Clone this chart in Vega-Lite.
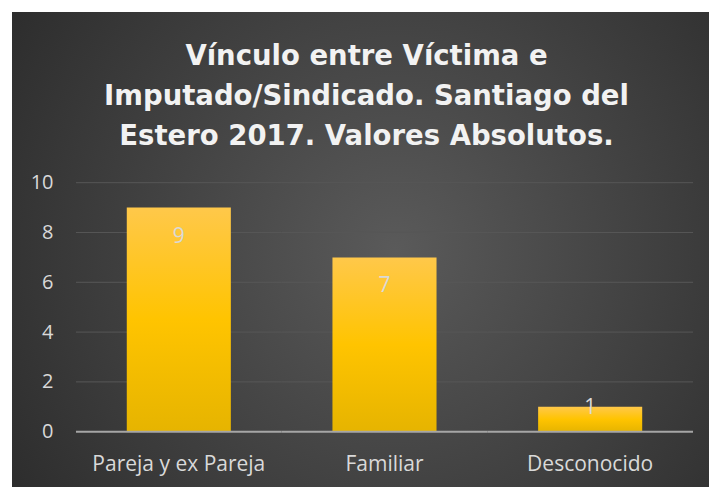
{
  "$schema": "https://vega.github.io/schema/vega-lite/v6.json",
  "autosize": {"type": "none"},
  "width": 697,
  "height": 475,
  "padding": {"top": 12, "left": 12, "right": 0, "bottom": 0},
  "background": "white",
  "title": {
    "text": ["Vínculo entre Víctima e", "Imputado/Sindicado. Santiago del", "Estero 2017. Valores Absolutos."],
    "font": "DejaVu Sans",
    "fontSize": 27.5,
    "fontWeight": "bold",
    "color": "#f2f2f2",
    "lineHeight": 40,
    "anchor": "middle",
    "frame": "group",
    "baseline": "top",
    "offset": -138,
    "dx": 6
  },
  "config": {
    "view": {
      "stroke": null,
      "fill": {
        "gradient": "radial",
        "x1": 0.55, "y1": 0.5, "x2": 0.55, "y2": 0.5,
        "r1": 0, "r2": 0.75,
        "stops": [
          {"offset": 0, "color": "#5a5a5a"},
          {"offset": 1, "color": "#262626"}
        ]
      }
    }
  },
  "data": {
    "values": [
      {"vinculo": "Pareja y ex Pareja", "valor": 9},
      {"vinculo": "Familiar", "valor": 7},
      {"vinculo": "Desconocido", "valor": 1}
    ]
  },
  "encoding": {
    "x": {
      "field": "vinculo",
      "type": "nominal",
      "sort": null,
      "scale": {"type": "band", "paddingInner": 0, "paddingOuter": 0.1944, "align": 0.8},
      "axis": {
        "orient": "bottom",
        "offset": -55,
        "title": null,
        "domain": false,
        "ticks": false,
        "tickSize": 0,
        "grid": false,
        "labelAngle": 0,
        "labelPadding": 21,
        "labelFont": "Open Sans",
        "labelFontSize": 21,
        "labelColor": "#d9d9d9"
      }
    }
  },
  "layer": [
    {
      "mark": {"type": "rule", "color": "#575757", "strokeWidth": 1},
      "encoding": {
        "x": {"field": "vinculo", "type": "nominal", "sort": null, "bandPosition": 0},
        "x2": {"field": "vinculo", "bandPosition": 1},
        "y": {
          "datum": 2,
          "type": "quantitative",
          "scale": {"domain": [-2.221, 16.855], "nice": false, "zero": false},
          "axis": {
            "values": [0, 2, 4, 6, 8, 10],
            "orient": "left",
            "offset": -41,
            "title": null,
            "domain": false,
            "ticks": false,
            "tickSize": 0,
            "grid": false,
            "labelPadding": 0,
            "labelFont": "Open Sans",
            "labelFontSize": 20,
            "labelColor": "#d9d9d9"
          }
        }
      }
    },
    {
      "mark": {"type": "rule", "color": "#575757", "strokeWidth": 1},
      "encoding": {
        "x": {"field": "vinculo", "type": "nominal", "sort": null, "bandPosition": 0},
        "x2": {"field": "vinculo", "bandPosition": 1},
        "y": {"datum": 4, "type": "quantitative"}
      }
    },
    {
      "mark": {"type": "rule", "color": "#575757", "strokeWidth": 1},
      "encoding": {
        "x": {"field": "vinculo", "type": "nominal", "sort": null, "bandPosition": 0},
        "x2": {"field": "vinculo", "bandPosition": 1},
        "y": {"datum": 6, "type": "quantitative"}
      }
    },
    {
      "mark": {"type": "rule", "color": "#575757", "strokeWidth": 1},
      "encoding": {
        "x": {"field": "vinculo", "type": "nominal", "sort": null, "bandPosition": 0},
        "x2": {"field": "vinculo", "bandPosition": 1},
        "y": {"datum": 8, "type": "quantitative"}
      }
    },
    {
      "mark": {"type": "rule", "color": "#575757", "strokeWidth": 1},
      "encoding": {
        "x": {"field": "vinculo", "type": "nominal", "sort": null, "bandPosition": 0},
        "x2": {"field": "vinculo", "bandPosition": 1},
        "y": {"datum": 10, "type": "quantitative"}
      }
    },
    {
      "mark": {
        "type": "bar",
        "width": {"band": 0.506},
        "color": {
          "gradient": "linear",
          "x1": 0, "y1": 0, "x2": 0, "y2": 1,
          "stops": [
            {"offset": 0, "color": "#ffc84a"},
            {"offset": 0.5, "color": "#ffc400"},
            {"offset": 1, "color": "#e6b400"}
          ]
        }
      },
      "encoding": {
        "y": {"field": "valor", "type": "quantitative"}
      }
    },
    {
      "mark": {"type": "rule", "color": "#a6a6a6", "strokeWidth": 2},
      "encoding": {
        "x": {"field": "vinculo", "type": "nominal", "sort": null, "bandPosition": 0},
        "x2": {"field": "vinculo", "bandPosition": 1},
        "y": {"datum": 0, "type": "quantitative"}
      }
    },
    {
      "transform": [{"filter": "datum.valor >= 3"}],
      "mark": {"type": "text", "baseline": "middle", "dy": 29, "font": "Open Sans", "fontSize": 21, "color": "#d9d9d9"},
      "encoding": {
        "y": {"field": "valor", "type": "quantitative"},
        "text": {"field": "valor", "type": "quantitative"}
      }
    },
    {
      "transform": [{"filter": "datum.valor < 3"}],
      "mark": {"type": "text", "baseline": "middle", "dy": 1, "font": "Open Sans", "fontSize": 21, "color": "#d9d9d9"},
      "encoding": {
        "y": {"field": "valor", "type": "quantitative"},
        "text": {"field": "valor", "type": "quantitative"}
      }
    }
  ]
}
